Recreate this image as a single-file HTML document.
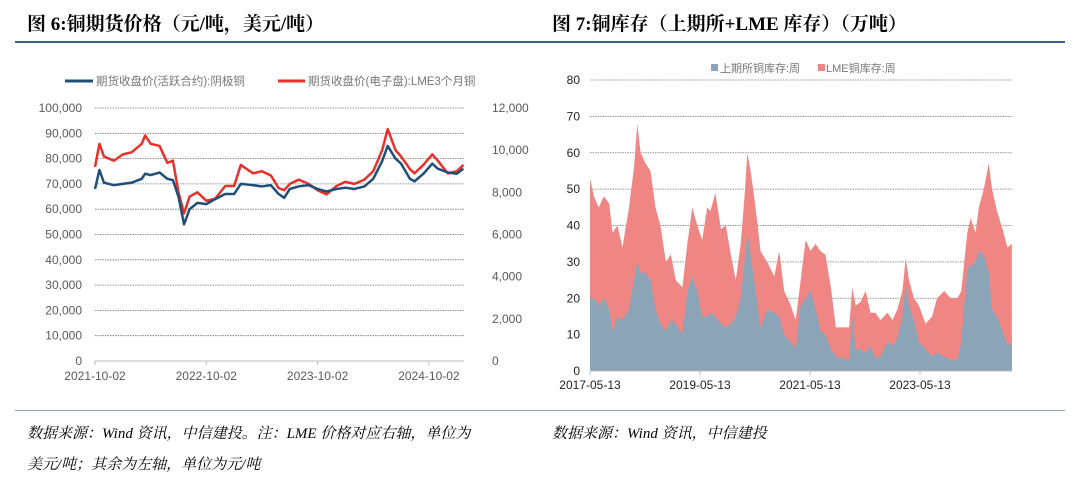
<!DOCTYPE html>
<html><head><meta charset="utf-8"><style>
body{margin:0;background:#fff;width:1080px;height:484px;overflow:hidden;font-family:"Liberation Serif","Noto Serif CJK SC",serif}
.t{position:absolute;font-weight:bold;font-size:19px;color:#000;top:9px}
.s{position:absolute;font-style:italic;font-size:15px;color:#000}
</style></head><body>
<div class="t" style="left:27px">图 6:铜期货价格（元/吨，美元/吨）</div>
<div class="t" style="left:552px">图 7:铜库存（上期所+LME 库存）（万吨）</div>
<div style="position:absolute;left:15px;top:41px;width:1050px;height:2px;background:#3b6189"></div>
<div style="position:absolute;left:15px;top:410px;width:1050px;height:1px;background:#9aa"></div>
<div class="s" style="left:27px;top:422px">数据来源：Wind 资讯，中信建投。注：LME 价格对应右轴，单位为</div>
<div class="s" style="left:27px;top:453px">美元/吨；其余为左轴，单位为元/吨</div>
<div class="s" style="left:552px;top:422px">数据来源：Wind 资讯，中信建投</div>
<svg id="c" width="1080" height="484" style="position:absolute;left:0;top:0" font-family="Liberation Sans, Noto Sans CJK SC, sans-serif"></svg>
<script>
const lDates=[2021.75,2021.79,2021.83,2021.92,2022.0,2022.08,2022.17,2022.2,2022.25,2022.33,2022.4,2022.45,2022.5,2022.55,2022.6,2022.67,2022.75,2022.83,2022.92,2023.0,2023.06,2023.17,2023.25,2023.33,2023.4,2023.45,2023.5,2023.58,2023.67,2023.75,2023.83,2023.92,2024.0,2024.08,2024.17,2024.25,2024.33,2024.38,2024.45,2024.5,2024.58,2024.62,2024.7,2024.78,2024.83,2024.92,2025.0,2025.06];
const shfePrice=[68000,75500,70500,69500,70000,70500,72000,74000,73500,74500,72000,71500,65000,54000,60000,62500,62000,64000,66000,66000,70000,69500,69000,69500,66000,64500,68000,69000,69500,68000,67000,68000,68500,68000,69000,72000,79000,85000,80000,78000,72000,71000,74000,78000,76000,74500,74000,76000];
const lmePrice=[9200,10300,9700,9500,9800,9900,10300,10700,10300,10200,9400,9500,8000,7000,7800,8000,7600,7700,8300,8300,9300,8900,9000,8800,8200,8100,8400,8600,8400,8100,7900,8300,8500,8400,8600,9000,10000,11000,10000,9700,9100,8900,9300,9800,9500,8900,9000,9300];
const lLeftTicks=[0,10000,20000,30000,40000,50000,60000,70000,80000,90000,100000];
const lRightTicks=[0,2000,4000,6000,8000,10000,12000];
const lXTicks=[[2021.75,"2021-10-02"],[2022.75,"2022-10-02"],[2023.75,"2023-10-02"],[2024.75,"2024-10-02"]];
const rDates=[2017.36,2017.43,2017.52,2017.61,2017.71,2017.77,2017.86,2017.95,2018.07,2018.16,2018.22,2018.28,2018.37,2018.46,2018.55,2018.64,2018.74,2018.83,2018.92,2019.04,2019.13,2019.22,2019.31,2019.40,2019.49,2019.55,2019.64,2019.74,2019.83,2019.92,2020.01,2020.10,2020.17,2020.22,2020.28,2020.37,2020.46,2020.58,2020.71,2020.80,2020.89,2021.01,2021.10,2021.19,2021.28,2021.37,2021.46,2021.55,2021.64,2021.74,2021.83,2021.95,2022.07,2022.13,2022.19,2022.28,2022.37,2022.46,2022.55,2022.64,2022.77,2022.86,2022.95,2023.04,2023.10,2023.16,2023.25,2023.34,2023.46,2023.58,2023.67,2023.80,2023.92,2024.04,2024.11,2024.22,2024.28,2024.37,2024.43,2024.52,2024.61,2024.67,2024.76,2024.86,2024.95,2025.03];
const totalStock=[53,48,45,48,46,38,40,34,45,56,68,60,57,55,45,40,30,32,25,23,35,45,40,36,45,44,49,39,40,32,25,35,48,60,55,45,33,30,26,33,22,18,14,25,36,33,35,33,32,23,12,12,12,23,18,19,22,16,16,14,16,14,17,22,31,25,20,18,13,15,20,22,20,20,22,38,42,38,45,50,57,50,44,39,34,35];
const shfeStock=[20,20,18,20,17,11,15,14,17,25,30,27,27,25,17,13,11,14,13,10,22,26,22,15,15,16,15,13,12,13,15,20,30,38,32,22,12,17,16,15,10,8,6,18,20,22,17,11,10,6,4,3.5,3,15,6,6,5,7,3.5,4,8,7,9,15,24,18,14,8,6,4,5,4,3,3,8,28,29,30,33,32,27,17,15,11,7,8];
const rTicks=[0,10,20,30,40,50,60,70,80];
const rXTicks=[[2017.36,"2017-05-13"],[2019.36,"2019-05-13"],[2021.36,"2021-05-13"],[2023.36,"2023-05-13"]];

const svg=document.getElementById('c');const NS='http://www.w3.org/2000/svg';
function mk(t,a,txt){const e=document.createElementNS(NS,t);for(const k in a)e.setAttribute(k,a[k]);if(txt!=null)e.textContent=txt;svg.appendChild(e);return e;}
// left chart
const lx=d=>95+(d-2021.75)*111.3, ly=v=>361-v*253/100000, ly2=v=>361-v*253/12000;
lLeftTicks.forEach(t=>{
 if(t>0){const g=mk('line',{x1:95,x2:464,y1:ly(t),y2:ly(t),stroke:'#777','stroke-dasharray':'1.5,1',"stroke-width":0.8});
 
 }
 const e=mk('text',{x:82,y:ly(t)+4,'text-anchor':'end','font-size':12,fill:'#595959'},t.toLocaleString('en-US'));
 
 });
lRightTicks.forEach(t=>{const e=mk('text',{x:492,y:ly2(t)+4,'font-size':12,fill:'#595959'},t.toLocaleString('en-US'));
 
 });
let ax=mk('line',{x1:95,x2:464,y1:361,y2:361,stroke:'#bbb'});


lXTicks.forEach(([d,l])=>{mk('line',{x1:lx(d),x2:lx(d),y1:361,y2:365,stroke:'#bbb'});
 const e=mk('text',{x:lx(d),y:380,'text-anchor':'middle','font-size':12,fill:'#595959'},l);
 
 });
let p=mk('polyline',{points:lDates.map((d,i)=>lx(d)+','+ly2(lmePrice[i])).join(' '),fill:'none',stroke:'#e8312a','stroke-width':2.5,'stroke-linejoin':'round'});


p=mk('polyline',{points:lDates.map((d,i)=>lx(d)+','+ly(shfePrice[i])).join(' '),fill:'none',stroke:'#1f4e79','stroke-width':2.5,'stroke-linejoin':'round'});


mk('line',{x1:65,x2:93,y1:81,y2:81,stroke:'#1f4e79','stroke-width':3});
let e=mk('text',{x:96,y:85,'font-size':11.5,fill:'#777'},'期货收盘价(活跃合约):阴极铜');


mk('line',{x1:278,x2:305,y1:81,y2:81,stroke:'#e8312a','stroke-width':3});
e=mk('text',{x:308,y:85,'font-size':11.5,fill:'#777'},'期货收盘价(电子盘):LME3个月铜');


// right chart
const rx=d=>590+(d-2017.36)*55, ry=v=>371-v*291/80;
rTicks.forEach(t=>{
 if(t>0){const g=mk('line',{x1:590,x2:1012,y1:ry(t),y2:ry(t),stroke:'#777','stroke-dasharray':'1.5,1','stroke-width':0.8});
 
 }
 const e=mk('text',{x:580,y:ry(t)+4,'text-anchor':'end','font-size':12,fill:'#222'},t);
 
 });
const topPts=rDates.map((d,i)=>rx(d)+','+ry(totalStock[i])).join(' ');
const midPts=rDates.map((d,i)=>rx(d)+','+ry(shfeStock[i])).join(' ');
const x0=rx(rDates[0]), x1=rx(rDates[rDates.length-1]);
p=mk('polygon',{points:x0+','+ry(0)+' '+topPts+' '+x1+','+ry(0),fill:'#ef8683'});


p=mk('polygon',{points:x0+','+ry(0)+' '+midPts+' '+x1+','+ry(0),fill:'#8ca4b8'});


ax=mk('line',{x1:590,x2:1012,y1:371,y2:371,stroke:'#bbb'});


rXTicks.forEach(([d,l])=>{mk('line',{x1:rx(d),x2:rx(d),y1:371,y2:375,stroke:'#bbb'});
 const e=mk('text',{x:rx(d),y:389,'text-anchor':'middle','font-size':12,fill:'#222'},l);
 
 });
mk('rect',{x:711,y:64,width:7,height:7,fill:'#8ca4b8'});
e=mk('text',{x:720,y:72,'font-size':11,fill:'#777'},'上期所铜库存:周');


mk('rect',{x:818,y:64,width:7,height:7,fill:'#ef8683'});
e=mk('text',{x:826,y:72,'font-size':11,fill:'#777'},'LME铜库存:周');


</script>
</body></html>
